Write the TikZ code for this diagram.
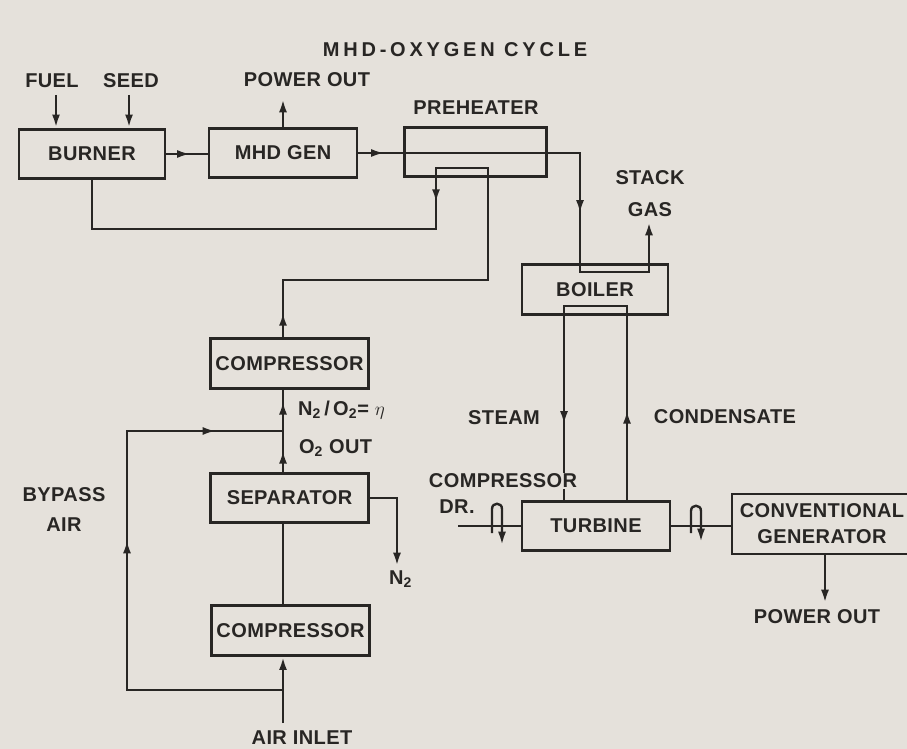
\documentclass[tikz,border=0pt]{standalone}
\usepackage{fontspec}
\setmainfont{Liberation Sans}[LetterSpace=2]
\usepackage{tikz}
\usetikzlibrary{arrows.meta,decorations.markings}
\definecolor{paper}{RGB}{229,225,219}
\definecolor{ink}{RGB}{40,38,36}

\begin{document}
\begin{tikzpicture}[
    x=0.75pt, y=-0.75pt, line width=2.2pt, color=ink,
    box/.style={rectangle, draw=ink, line width=2.2pt, inner sep=0pt, minimum height=37pt,
                align=center, font=\fontsize{15}{18}\selectfont\bfseries},
    lbl/.style={inner sep=2pt, align=center, font=\fontsize{15}{18}\selectfont\bfseries},
    arr/.style={-{Latex[length=10pt,width=6pt]}},
    midarr/.style={postaction={decorate, decoration={markings,
                   mark=at position #1 with {\arrow{Latex[length=10pt,width=6pt]}}}}}
]
    \useasboundingbox (0,0) rectangle (907,749);
    \clip (0,0) rectangle (907,749);
    \fill[paper] (0,0) rectangle (907,749);

    \node[lbl, font=\fontsize{15}{18}\selectfont\bfseries\addfontfeatures{LetterSpace=19}] (title) at (455,50) {MHD-OXYGEN CYCLE};

    \node[box, minimum width=109.5pt] (burner) at (92,154) {BURNER};
    \node[box, minimum width=111pt] (mhd) at (283,153) {MHD GEN};
    \node[box, minimum width=107pt] (preheat) at (475.5,152) {};
    \node[box, minimum width=109.5pt] (boiler) at (595,289.5) {BOILER};
    \node[box, minimum width=118pt] (compup) at (289.5,363.5) {COMPRESSOR};
    \node[box, minimum width=118pt] (sep) at (289.5,498) {SEPARATOR};
    \node[box, minimum width=118pt] (complow) at (290.5,630.5) {COMPRESSOR};
    \node[box, minimum width=111pt] (turb) at (596,526) {TURBINE};
    \node[box, minimum width=135pt, minimum height=45pt] (gen) at (822,524) {CONVENTIONAL\\[1.5pt]GENERATOR};

    \node[lbl] (fuel) at (52,81) {FUEL};
    \node[lbl] (seed) at (131,81) {SEED};
    \node[lbl] (pwrtop) at (307,80) {POWER OUT};
    \node[lbl] (preheatlbl) at (476,108) {PREHEATER};
    \node[lbl] (stack) at (650,194) {STACK\\[6pt]GAS};
    \node[lbl] (bypass) at (64,509.5) {BYPASS\\[4pt]AIR};
    \node[lbl, anchor=base west] (ratio) at (294,415) {N\textsubscript{2}\,/\,O\textsubscript{2}= $\eta$};
    \node[lbl, anchor=base west] (o2out) at (295,453) {O\textsubscript{2} OUT};
    \node[lbl, anchor=base west] (n2) at (385,584) {N\textsubscript{2}};
    \node[lbl] (steam) at (504,418) {STEAM};
    \node[lbl] (cond) at (725,417) {CONDENSATE};
    \node[lbl] (drivedr) at (457,507) {DR.};
    \node[lbl] (pwrlow) at (817,617) {POWER OUT};
    \node[lbl] (airlbl) at (302,738) {AIR INLET};

    \coordinate (fuelin) at (56,95);
    \coordinate (seedin) at (129,95);
    \coordinate (pwrtopend) at (283,99);
    \coordinate (gasturn) at (580,153);
    \coordinate (gasin) at (580,272);
    \coordinate (gasout) at (649,272);
    \coordinate (stackend) at (649,222);
    \coordinate (oxright) at (488,280);
    \coordinate (oxtop) at (436,168);
    \coordinate (oxdown) at (436,229);
    \coordinate (bypassL) at (127,690);
    \coordinate (bypassT) at (127,431);
    \coordinate (airin) at (283,723);
    \coordinate (n2turn) at (397,498);
    \coordinate (n2end) at (397,566);
    \coordinate (steamtop) at (564,306);
    \coordinate (condtop) at (627,306);
    \coordinate (shaftin) at (458,526);
    \coordinate (genout) at (825,603);

    \draw[arr] (fuelin) -- (fuelin |- burner.north);
    \draw[arr] (seedin) -- (seedin |- burner.north);
    \draw[arr] (pwrtopend |- mhd.north) -- (pwrtopend);
    \draw[midarr=18pt] (burner.east) -- (burner.east -| mhd.west);
    \draw[arr, midarr=19.5pt, midarr=211.5pt] (mhd.east) -- (gasturn) -- (gasin) -- (gasout) -- (stackend);
    \draw[midarr=18.75pt, midarr=345.75pt] (mhd |- compup.north) -- (mhd |- oxright) -- (oxright)
        -- (oxright |- oxtop) -- (oxtop) -- (oxdown) -- (burner.south |- oxdown) -- (burner.south);

    \draw[midarr=16.2pt, midarr=53pt] (mhd |- sep.north) -- (mhd |- compup.south);
    \draw[midarr=229.5pt, midarr=378pt] (mhd |- bypassL) -- (bypassL) -- (bypassT) -- (mhd |- bypassT);
    \draw (mhd |- sep.south) -- (mhd |- complow.north);
    \draw[arr] (airin) -- (mhd |- complow.south);
    \draw[arr] (sep.east) -- (n2turn) -- (n2end);

    \draw[midarr=67.2pt, midarr=281.5pt] (condtop |- turb.north) -- (condtop) -- (steamtop) -- (steamtop |- turb.north);
    \node[lbl, fill=paper, inner sep=1pt] (drive) at (503,481) {COMPRESSOR};

    \draw (shaftin) -- (shaftin -| turb.west);
    \draw (turb.east) -- (turb.east -| gen.west);
    \draw[arr, line width=1.8pt] (492,533) -- (492,509) .. controls (492,502) and (502,502) .. (502,509) -- (502,545);
    \draw[arr, line width=1.8pt] (691,533) -- (691,511) .. controls (691,504) and (701,504) .. (701,511) -- (701,542);
    \draw[arr] (genout |- gen.south) -- (genout);
\end{tikzpicture}
\end{document}
